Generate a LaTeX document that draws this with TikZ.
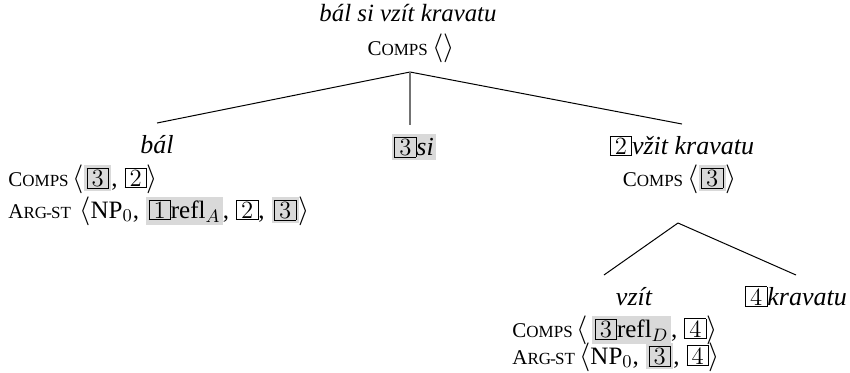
\documentclass[tikz,border=0pt]{standalone}
\usepackage{fontspec}
\setmainfont{Liberation Serif}
\newfontfamily\lmfont{Latin Modern Roman}
\definecolor{shade}{gray}{0.85}
\newcommand\tg[1]{{\setlength\fboxsep{0.6pt}\setlength\fboxrule{0.4pt}\fbox{\fontsize{12.4}{12}\lmfont\upshape\kern1.5pt#1\kern1.5pt}}}
\newcommand\hl[1]{{\setlength\fboxsep{1.3pt}\colorbox{shade}{#1}}}
\newcommand\feat[2]{{\fontsize{10.5}{10}\selectfont#1\fontsize{8.5}{8}\selectfont#2}}
\newcommand\lst[1]{\,{\fontsize{14.5}{14}\selectfont$\langle$}#1{\fontsize{14.5}{14}\selectfont$\rangle$}}
\newcommand\sep{,\hspace{3.5pt}}
\tikzstyle{word} = [font=\fontsize{13}{15}\selectfont\itshape, inner sep=0pt, outer sep=6pt, text height=9pt, text depth=0pt]
\tikzstyle{avm} = [inner sep=0pt]
\tikzstyle{branch} = [draw, line width=0.5pt]
\tikzstyle{head branch} = [draw, line width=0.6pt, black!55]

\begin{document}
\begin{tikzpicture}[x=0.5pt, y=-0.5pt, font=\fontsize{12.5}{14}\selectfont]
	\useasboundingbox (0,0) rectangle (850,372);
	% First we draw the mother and the daughters
	\node[avm, font=\fontsize{12.4}{14}\selectfont\itshape, anchor=base] (root) at (408,21) {bál si vzít kravatu};
	\node[avm, anchor=base] (rootc) at (411,55) {\feat{C}{OMPS}\lst{}};
	\coordinate (apex) at (410,72);

	\node[word, anchor=base] (bal) at (157,153) {bál};
	\node[avm, anchor=base west] (balc) at (8,186) {\feat{C}{OMPS}\lst{\hl{\tg{3}}\sep\tg{2}}};
	\node[avm, anchor=base west] (bala) at (8,218) {\feat{A}{RG\kern-0.4pt-\kern-0.4pt ST}\,\lst{NP$_0$\sep\hl{\tg{1}refl$_A$}\sep\tg{2}\sep\hl{\tg{3}}}};

	\node[word, anchor=base] (si) at (414,155) {\hl{\tg{3}si}};

	\node[word, anchor=base] (vk) at (682,154) {\tg{2}vžit kravatu};
	\node[avm, anchor=base] (vkc) at (680,186) {\feat{C}{OMPS}\lst{\hl{\tg{3}}}};
	\coordinate (apex2) at (678,223);

	\node[word, anchor=base] (vzit) at (634,305) {vzít};
	\node[avm, anchor=base west] (vzitc) at (512,337) {\feat{C}{OMPS}\lst{\,\hl{\tg{3}refl$_D$}\sep\tg{4}}};
	\node[avm, anchor=base west] (vzita) at (512,364) {\feat{A}{RG\kern-0.4pt-\kern-0.4pt ST}\lst{NP$_0$\sep\hl{\tg{3}}\sep\tg{4}}};
	\node[word, anchor=base] (krav) at (796,305) {\tg{4}kravatu};

	% Then the branches
	\foreach \source/\dest in {apex/bal.north, apex/vk.north, apex2/vzit.north west, apex2/krav.north}
	\path[branch] (\source) -- (\dest);
	\path[head branch] (apex) -- (si.north -| apex);
\end{tikzpicture}
\end{document}
